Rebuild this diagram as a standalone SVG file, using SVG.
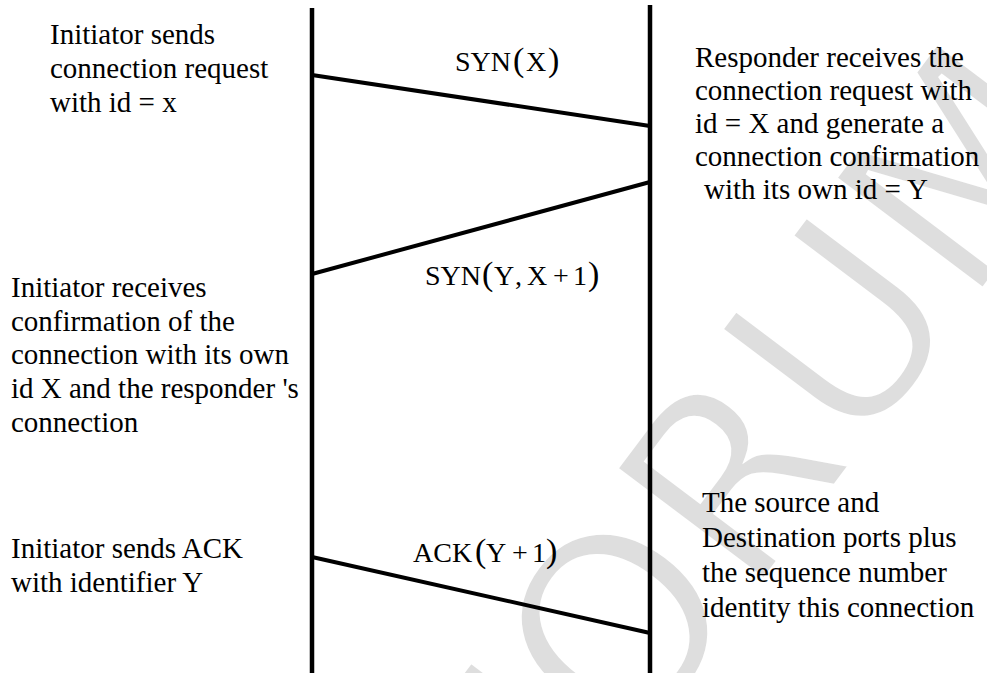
<svg xmlns="http://www.w3.org/2000/svg" width="987" height="673" viewBox="0 0 987 673">
  <style>
    .t { font-family: "Liberation Serif", "Times New Roman", serif; font-size: 29px; fill: #000; }
    .m { font-family: "Liberation Serif", "Times New Roman", serif; font-size: 28px; fill: #000; }
    .p { font-size: 34px; }
    .life { stroke: #000; stroke-width: 4.5; fill: none; }
    .msg { stroke: #000; stroke-width: 4; fill: none; stroke-linecap: butt; }
    .wm { font-family: "DejaVu Sans", "Liberation Sans", sans-serif; font-size: 255px; fill: #dedede; stroke: #fff; stroke-width: 5; }
  </style>
  <rect width="987" height="673" fill="#fff"/>

  <!-- faint background stamp -->
  <g id="watermark">
    <text class="wm" transform="translate(540,878) rotate(-53)">FORUM</text>
  </g>

  <!-- lifelines -->
  <g id="initiator">
    <line class="life" x1="312" y1="8" x2="312" y2="673"/>
  </g>
  <g id="responder">
    <line class="life" x1="650" y1="5" x2="650" y2="673"/>
  </g>

  <!-- messages -->
  <g id="connectors">
    <line class="msg" x1="312" y1="75" x2="650" y2="126"/>
    <line class="msg" x1="650" y1="182" x2="312" y2="274"/>
    <line class="msg" x1="312" y1="557" x2="650" y2="633"/>
  </g>

  <g id="msg-labels">
    <text class="m" y="71"><tspan x="455">SYN</tspan><tspan x="513" class="p">(</tspan><tspan x="526">X</tspan><tspan x="548" class="p">)</tspan></text>
    <text class="m" y="285"><tspan x="425">SYN</tspan><tspan x="482" class="p">(</tspan><tspan x="494">Y</tspan><tspan x="515">,</tspan><tspan x="527">X</tspan><tspan x="553">+</tspan><tspan x="573">1</tspan><tspan x="588" class="p">)</tspan></text>
    <text class="m" y="562"><tspan x="413">ACK</tspan><tspan x="475" class="p">(</tspan><tspan x="486">Y</tspan><tspan x="512">+</tspan><tspan x="532">1</tspan><tspan x="546" class="p">)</tspan></text>
  </g>

  <g id="note-request">
    <text class="t">
      <tspan x="50" y="44">Initiator sends</tspan>
      <tspan x="50" y="78">connection request</tspan>
      <tspan x="50" y="112">with id = x</tspan>
    </text>
  </g>

  <g id="note-responder">
    <text class="t">
      <tspan x="695" y="67">Responder receives the</tspan>
      <tspan x="695" y="100">connection request with</tspan>
      <tspan x="695" y="133">id = X and generate a</tspan>
      <tspan x="695" y="166">connection confirmation</tspan>
      <tspan x="704" y="199">with its own id = Y</tspan>
    </text>
  </g>

  <g id="note-confirm">
    <text class="t">
      <tspan x="11" y="297">Initiator receives</tspan>
      <tspan x="11" y="331">confirmation of the</tspan>
      <tspan x="11" y="364">connection with its own</tspan>
      <tspan x="11" y="398">id X and the responder 's</tspan>
      <tspan x="11" y="432">connection</tspan>
    </text>
  </g>

  <g id="note-ack">
    <text class="t">
      <tspan x="11" y="558">Initiator sends ACK</tspan>
      <tspan x="11" y="592">with identifier Y</tspan>
    </text>
  </g>

  <g id="note-ports">
    <text class="t">
      <tspan x="702" y="512">The source and</tspan>
      <tspan x="702" y="547">Destination ports plus</tspan>
      <tspan x="702" y="582">the sequence number</tspan>
      <tspan x="702" y="617">identity this connection</tspan>
    </text>
  </g>
</svg>
